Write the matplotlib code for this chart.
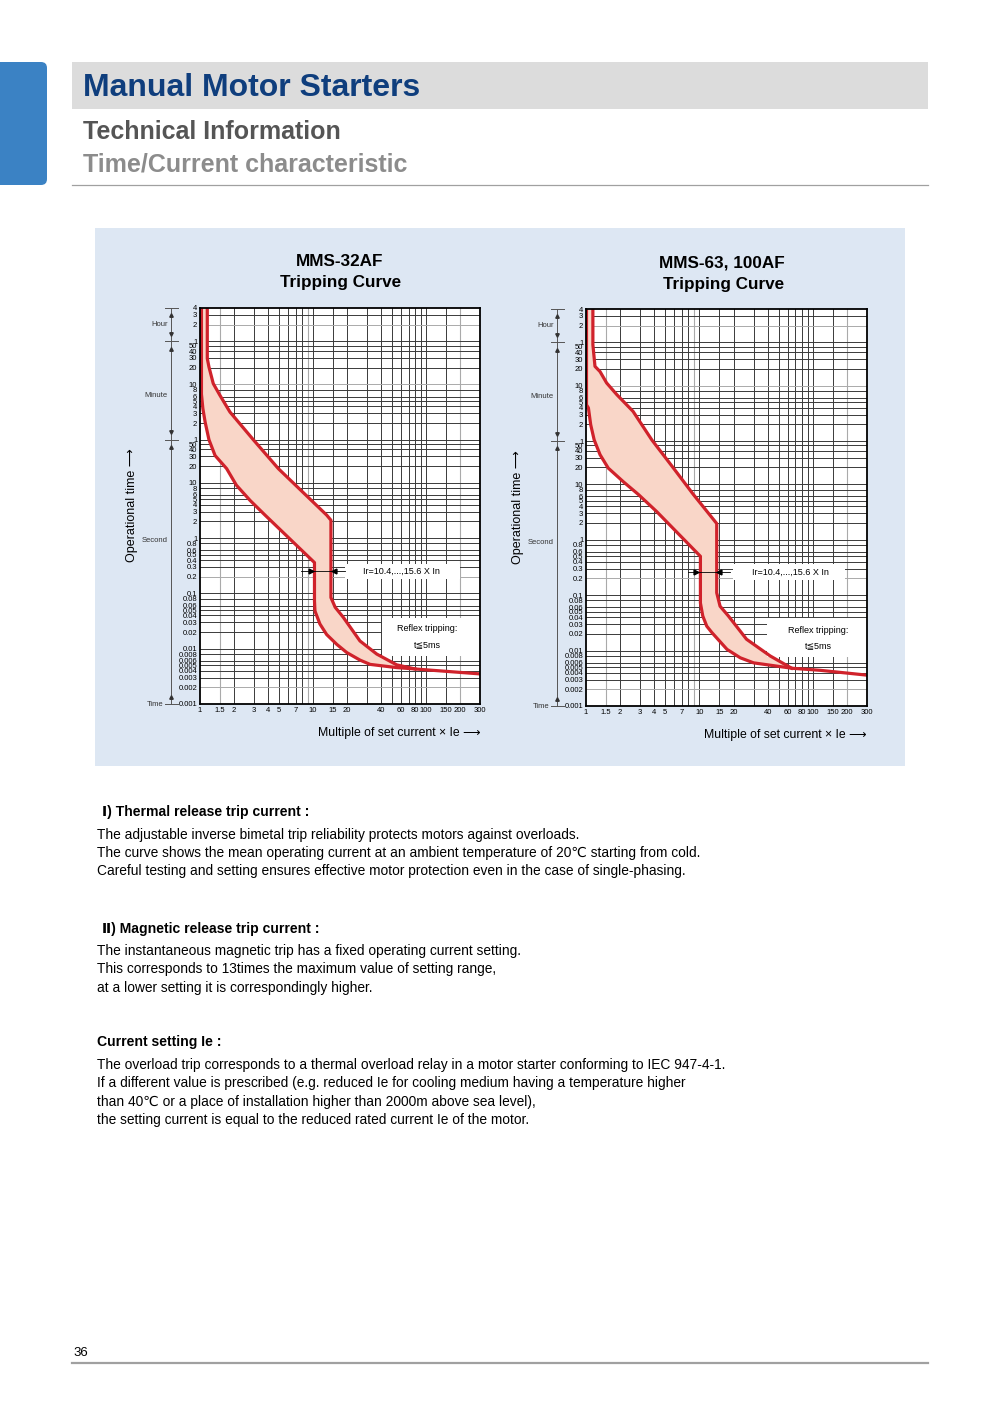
import matplotlib
matplotlib.use('Agg')
import matplotlib.pyplot as plt
import matplotlib.transforms as mtransforms
from matplotlib import font_manager
from matplotlib.patches import Rectangle, FancyBboxPatch
from matplotlib.ticker import NullLocator

names = {f.name for f in font_manager.fontManager.ttflist}
NARROW = 'Liberation Sans Narrow' if 'Liberation Sans Narrow' in names else 'Liberation Sans'
plt.rcParams['font.family'] = ['Liberation Sans', 'DejaVu Sans']
FAM_N = [NARROW, 'DejaVu Sans']

# ---- axis data (time in seconds, current as multiple of Ie)
x_ticks = [1, 1.5, 2, 3, 4, 5, 7, 10, 15, 20, 40, 60, 80, 100, 150, 200, 300]
x_labels = ['1', '1.5', '2', '3', '4', '5', '7', '10', '15', '20', '40', '60', '80', '100', '150', '200', '300']
x_grid_dark = [2, 3, 4, 5, 6, 7, 8, 10, 15, 20, 30, 40, 50, 60, 70, 80, 90, 100, 150]
x_grid_light = [1.5, 9, 200]

y_ticks = [14400, 10800, 7200, 3600, 3000, 2400, 1800, 1200, 600, 480, 360, 300, 240, 180, 120,
           60, 50, 40, 30, 20, 10, 8, 6, 5, 4, 3, 2, 1, 0.8, 0.6, 0.5, 0.4, 0.3, 0.2,
           0.1, 0.08, 0.06, 0.05, 0.04, 0.03, 0.02, 0.01, 0.008, 0.006, 0.005, 0.004, 0.003, 0.002, 0.001]
y_labels = ['4', '3', '2', '1', '50', '40', '30', '20', '10', '8', '6', '5', '4', '3', '2',
            '1', '50', '40', '30', '20', '10', '8', '6', '5', '4', '3', '2', '1', '0.8', '0.6', '0.5', '0.4', '0.3', '0.2',
            '0.1', '0.08', '0.06', '0.05', '0.04', '0.03', '0.02', '0.01', '0.008', '0.006', '0.005', '0.004', '0.003', '0.002', '0.001']
y_grid_light = [7200, 600, 0.2, 0.002]

# ---- MMS-32AF curves
lo32_x = [1.03, 1.03, 1.06, 1.11, 1.2, 1.36, 1.72, 2.1, 2.77, 3.76, 10.3, 10.3, 10.4, 11.5, 13.2, 16.2, 19.9, 26.1, 32, 55, 80, 108, 300]
lo32_t = [14400, 400, 219, 125, 60, 31, 18, 9, 4.8, 2.6, 0.36, 0.073, 0.048, 0.028, 0.018, 0.012, 0.0085, 0.0062, 0.0052, 0.00455, 0.0043, 0.0041, 0.0035]
up32_x = [1.16, 1.16, 1.2, 1.31, 1.5, 1.84, 2.96, 4.93, 13.2, 14.4, 14.4, 15.7, 18.5, 26, 36.6, 55, 80]
up32_t = [14400, 1760, 1240, 620, 381, 190, 60, 18, 2.6, 2.1, 0.084, 0.056, 0.037, 0.0138, 0.008, 0.0051, 0.0043]

# ---- MMS-63, 100AF curves
lo63_x = [1.01, 1.01, 1.05, 1.1, 1.18, 1.33, 1.57, 2.14, 2.9, 4.2, 10.2, 10.2, 10.7, 11.6, 12.9, 17.5, 22.9, 30, 65, 116, 300]
lo63_t = [14400, 270, 237, 118, 63, 34, 19.5, 11, 6.5, 3.2, 0.5, 0.072, 0.042, 0.0275, 0.021, 0.0105, 0.0074, 0.006, 0.0048, 0.0044, 0.0036]
up63_x = [1.15, 1.15, 1.2, 1.33, 1.52, 1.87, 2.6, 3.8, 5.9, 8.85, 14.2, 14.2, 15.2, 18, 26, 42, 65]
up63_t = [14400, 3270, 1330, 1070, 668, 411, 205, 63, 19.5, 6.5, 1.95, 0.11, 0.063, 0.042, 0.016, 0.008, 0.0048]

RED = '#d0222b'
FILL = '#f9d6c8'

fig = plt.figure(figsize=(10, 14.14), dpi=100)
page = fig.add_axes([0, 0, 1, 1])
page.set_xlim(0, 1000)
page.set_ylim(1414, 0)
page.axis('off')

# header
page.add_patch(FancyBboxPatch((-20, 62), 67, 123, boxstyle='round,pad=0,rounding_size=6',
                              fc='#3b82c4', ec='none'))
page.add_patch(Rectangle((72, 62), 856, 47, fc='#dcdcdc', ec='none'))
page.text(83, 88, 'Manual Motor Starters', fontsize=23, fontweight='bold', color='#0f3e7d', va='center')
page.text(83, 132, 'Technical Information', fontsize=18, fontweight='bold', color='#555555', va='center')
page.text(83, 164, 'Time/Current characteristic', fontsize=18, fontweight='bold', color='#8c8c8c', va='center')
page.plot([72, 928], [185, 185], color='#a0a0a0', lw=0.9)

# chart panel
page.add_patch(Rectangle((95, 228), 810, 538, fc='#dde7f3', ec='none'))


def px_axes(x0, y0, x1, y1):
    return fig.add_axes([x0 / 1000, 1 - y1 / 1414, (x1 - x0) / 1000, (y1 - y0) / 1414])


def draw_chart(ax, lo_x, lo_t, up_x, up_t, ann):
    ax.set_xscale('log')
    ax.set_yscale('log')
    ax.set_xlim(1, 300)
    ax.set_ylim(0.001, 14400)
    ax.xaxis.set_minor_locator(NullLocator())
    ax.yaxis.set_minor_locator(NullLocator())
    ax.set_xticks(x_ticks, x_labels)
    ax.set_yticks(y_ticks, y_labels)
    ax.tick_params(length=0, labelsize=5.5, pad=2)
    for lab in ax.get_xticklabels() + ax.get_yticklabels():
        lab.set_family(FAM_N)
    for v in x_grid_dark:
        ax.axvline(v, color='#3a3a3a', lw=0.7, zorder=1)
    for v in x_grid_light:
        ax.axvline(v, color='#aaaaaa', lw=0.8, zorder=1)
    for t in y_ticks[1:-1]:
        c = '#aaaaaa' if t in y_grid_light else '#3a3a3a'
        ax.axhline(t, color=c, lw=0.7, zorder=1)
    for s in ax.spines.values():
        s.set_linewidth(1.3)
        s.set_zorder(6)

    # band between the two curves
    lim = up_x[-1]
    k = [i for i, v in enumerate(lo_x) if v <= lim]
    px = [lo_x[i] for i in k] + up_x[::-1]
    pt = [lo_t[i] for i in k] + up_t[::-1]
    ax.fill(px, pt, color=FILL, lw=0, zorder=2)
    ax.plot(lo_x, lo_t, color=RED, lw=2.3, zorder=4, solid_joinstyle='round')
    ax.plot(up_x, up_t, color=RED, lw=2.3, zorder=4, solid_joinstyle='round')

    # Ir annotation
    bx0, bx1, bt0, bt1 = ann['ir_box']
    ax.add_patch(Rectangle((bx0, bt0), bx1 - bx0, bt1 - bt0, fc='white', ec='none', zorder=3))
    ax.text(ann['ir_text'][0], ann['ir_text'][1], 'Ir=10.4,...,15.6 X In', fontsize=6.5,
            ha='center', va='center', zorder=5, family=FAM_N)
    lx0, lx1, lt = ann['ir_line']
    ax.plot([lx0, lx1], [lt, lt], color='black', lw=0.6, zorder=5)
    ax.plot([ann['ir_arrows'][0]], [lt], marker='>', ms=3.5, color='black', zorder=5)
    ax.plot([ann['ir_arrows'][1]], [lt], marker='<', ms=3.5, color='black', zorder=5)

    # reflex tripping box
    bx0, bx1, bt0, bt1 = ann['rf_box']
    ax.add_patch(Rectangle((bx0, bt0), bx1 - bx0, bt1 - bt0, fc='white', ec='none', zorder=3))
    ax.text(ann['rf_text'][0], ann['rf_text'][1], 'Reflex tripping:', fontsize=6.5,
            ha='center', va='center', zorder=5, family=FAM_N)
    ax.text(ann['rf_text'][0], ann['rf_text'][2], 't≦5ms', fontsize=6.5,
            ha='center', va='center', zorder=5, family=FAM_N)

    # time-range dimension line left of the axis
    tr = mtransforms.blended_transform_factory(ax.transAxes, ax.transData)
    dx = -0.104
    ax.plot([dx, dx], [0.001, 14400], transform=tr, color='#555555', lw=0.7, clip_on=False)
    for t in [14400, 3600, 60, 0.001]:
        ax.plot([dx - 0.022, dx + 0.025], [t, t], transform=tr, color='#555555', lw=0.7, clip_on=False)
    for t in [14400 / 1.35, 3600 / 1.35, 60 / 1.35, 0.001 * 1.35]:
        ax.plot([dx], [t], transform=tr, marker='^', ms=2.5, color='#333333', clip_on=False)
    for t in [3600 * 1.35, 60 * 1.35]:
        ax.plot([dx], [t], transform=tr, marker='v', ms=2.5, color='#333333', clip_on=False)
    kw = dict(transform=tr, fontsize=5.5, ha='right', va='center', color='#333333', family=FAM_N, clip_on=False)
    ax.text(-0.115, 7200, 'Hour', **kw)
    ax.text(-0.115, 380, 'Minute', **kw)
    ax.text(-0.115, 0.9, 'Second', **kw)
    ax.text(-0.13, 0.001, 'Time', **kw)


ann32 = dict(ir_box=(19.2, 200, 0.184, 0.344), ir_text=(61, 0.25), ir_line=(7.8, 19.2, 0.25),
             ir_arrows=(9.5, 15.2), rf_box=(40.5, 300, 0.0074, 0.0366), rf_text=(102, 0.023, 0.0117))
ann63 = dict(ir_box=(19.8, 193, 0.19, 0.356), ir_text=(63, 0.26), ir_line=(7.9, 18.7, 0.26),
             ir_arrows=(9.4, 15.0), rf_box=(39.4, 300, 0.0078, 0.039), rf_text=(112, 0.023, 0.0124))

ax1 = px_axes(200, 308, 480, 704)
draw_chart(ax1, lo32_x, lo32_t, up32_x, up32_t, ann32)
ax2 = px_axes(586, 309, 867, 706)
draw_chart(ax2, lo63_x, lo63_t, up63_x, up63_t, ann63)

# chart titles and axis captions
page.text(340, 262, 'MMS-32AF', fontsize=12.3, fontweight='bold', ha='center', va='center')
page.text(341, 282, 'Tripping Curve', fontsize=12.3, fontweight='bold', ha='center', va='center')
page.text(722, 263, 'MMS-63, 100AF', fontsize=12.3, fontweight='bold', ha='center', va='center')
page.text(724, 284, 'Tripping Curve', fontsize=12.3, fontweight='bold', ha='center', va='center')
page.text(132, 505, 'Operational time ⟶', fontsize=9, rotation=90, ha='center', va='center', family=FAM_N)
page.text(518, 507, 'Operational time ⟶', fontsize=9, rotation=90, ha='center', va='center', family=FAM_N)
page.text(481, 733, 'Multiple of set current × Ie ⟶', fontsize=8.8, ha='right', va='center', family=FAM_N)
page.text(867, 735, 'Multiple of set current × Ie ⟶', fontsize=8.8, ha='right', va='center', family=FAM_N)

# body text
BODY = 11.5 if NARROW != 'Liberation Sans' else 9.9
HEAD = 11.2 if NARROW != 'Liberation Sans' else 10.1
page.text(102, 812, 'Ⅰ) Thermal release trip current :', fontsize=HEAD, fontweight='bold', va='center', family=FAM_N)
lines1 = ['The adjustable inverse bimetal trip reliability protects motors against overloads.',
          'The curve shows the mean operating current at an ambient temperature of 20℃ starting from cold.',
          'Careful testing and setting ensures effective motor protection even in the case of single-phasing.']
for i, s in enumerate(lines1):
    page.text(97, 835 + 18 * i, s, fontsize=BODY, va='center', family=FAM_N)
page.text(102, 929, 'Ⅱ) Magnetic release trip current :', fontsize=HEAD, fontweight='bold', va='center', family=FAM_N)
lines2 = ['The instantaneous magnetic trip has a fixed operating current setting.',
          'This corresponds to 13times the maximum value of setting range,',
          'at a lower setting it is correspondingly higher.']
for i, s in enumerate(lines2):
    page.text(97, 951 + 18.5 * i, s, fontsize=BODY, va='center', family=FAM_N)
page.text(97, 1042, 'Current setting Ie :', fontsize=HEAD, fontweight='bold', va='center', family=FAM_N)
lines3 = ['The overload trip corresponds to a thermal overload relay in a motor starter conforming to IEC 947-4-1.',
          'If a different value is prescribed (e.g. reduced Ie for cooling medium having a temperature higher',
          'than 40℃ or a place of installation higher than 2000m above sea level),',
          'the setting current is equal to the reduced rated current Ie of the motor.']
for i, s in enumerate(lines3):
    page.text(97, 1065 + 18.4 * i, s, fontsize=BODY, va='center', family=FAM_N)

# footer
page.text(73, 1353, '36', fontsize=9.5, va='center', family=FAM_N)
page.plot([72, 928], [1363, 1363], color='#a0a0a0', lw=1.6)

fig.savefig('out.png', dpi=100)
